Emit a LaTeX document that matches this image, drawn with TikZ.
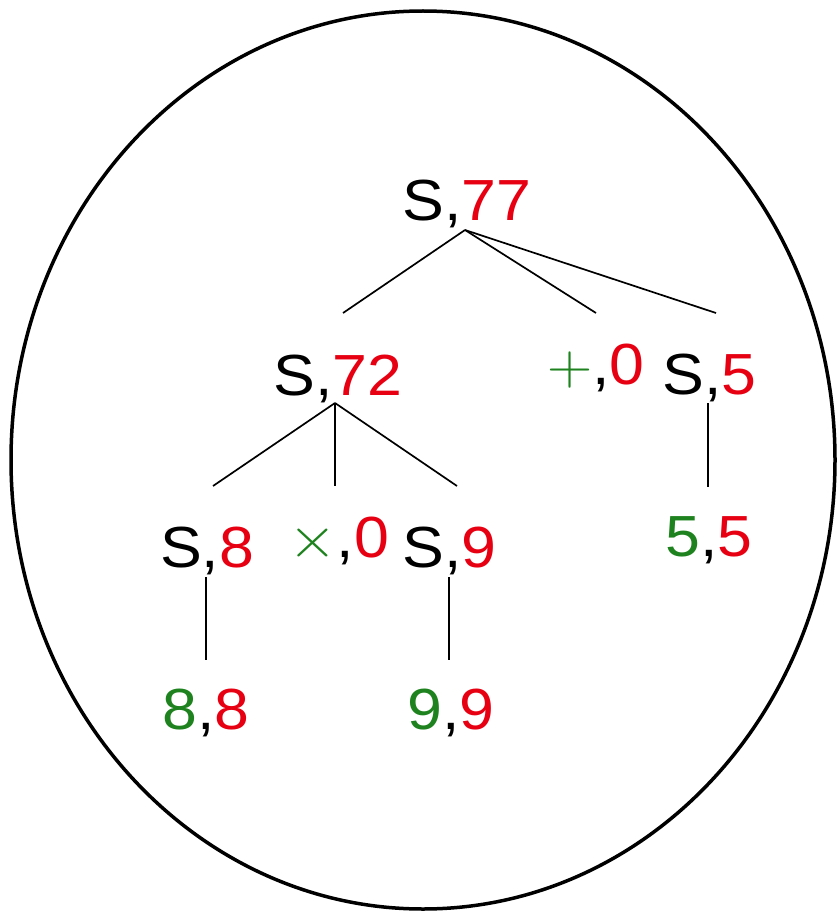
\RequirePackage{fix-cm}
\documentclass[tikz,border=0pt]{standalone}
\usepackage[no-math]{fontspec}
\setmainfont{Liberation Sans}
\usepackage{xcolor}
\definecolor{valcol}{RGB}{230,0,18}
\definecolor{tokcol}{RGB}{30,130,30}
\usetikzlibrary{calc}

\begin{document}
\begin{tikzpicture}[x=1pt, y=-1pt,
    lbl/.style={anchor=base west, inner sep=0pt, xscale=1.08,
                font=\fontsize{58}{62}\selectfont},
    edge/.style={line width=1.7pt}]
  \useasboundingbox (0,0) rectangle (837,912);

  % Outer ellipse
  \draw[line width=3.5pt] (423,460) ellipse [x radius=412, y radius=449];

  % Level 0: root
  \node[lbl] (s77) at (402,220) {S,\textcolor{valcol}{77}};

  % Level 1
  \node[lbl] (s72)   at (273,395) {S,\textcolor{valcol}{72}};
  \node[lbl] (plus0) at (547,384) {\textcolor{tokcol}{$+$},\textcolor{valcol}{0}};
  \node[lbl] (s5)    at (662,394) {S,\textcolor{valcol}{5}};

  % Level 2
  \node[lbl] (s8)     at (160,567) {S,\textcolor{valcol}{8}};
  \node[lbl] (times0) at (288,557) {\textcolor{tokcol}{$\times$},\textcolor{valcol}{0}};
  \node[lbl] (s9)     at (402,567) {S,\textcolor{valcol}{9}};
  \node[lbl] (d55)    at (665,556) {\textcolor{tokcol}{5},\textcolor{valcol}{5}};

  % Level 3: leaves
  \node[lbl] (d88) at (162,729) {\textcolor{tokcol}{8},\textcolor{valcol}{8}};
  \node[lbl] (d99) at (407,729) {\textcolor{tokcol}{9},\textcolor{valcol}{9}};

  % Attachment points (b = below a node, t = above a node)
  \coordinate (s77-b)    at (465,230);
  \coordinate (s72-t)    at (343,313);
  \coordinate (plus0-t)  at (596,313);
  \coordinate (s5-t)     at (716,313);
  \coordinate (s72-b)    at (335,403);
  \coordinate (s8-t)     at (213,486);
  \coordinate (times0-t) at (335,486);
  \coordinate (s9-t)     at (457,486);
  \coordinate (s5-b)     at (708,403);
  \coordinate (d55-t)    at (708,487);
  \coordinate (s8-b)     at (206,577);
  \coordinate (d88-t)    at (206,660);
  \coordinate (s9-b)     at (449,577);
  \coordinate (d99-t)    at (449,660);

  % Tree edges
  \foreach \p/\c in {s77/s72, s77/plus0, s77/s5, s72/s8, s72/times0,
                     s72/s9, s5/d55, s8/d88, s9/d99}
    \draw[edge] (\p-b) -- (\c-t);

\end{tikzpicture}
\end{document}
